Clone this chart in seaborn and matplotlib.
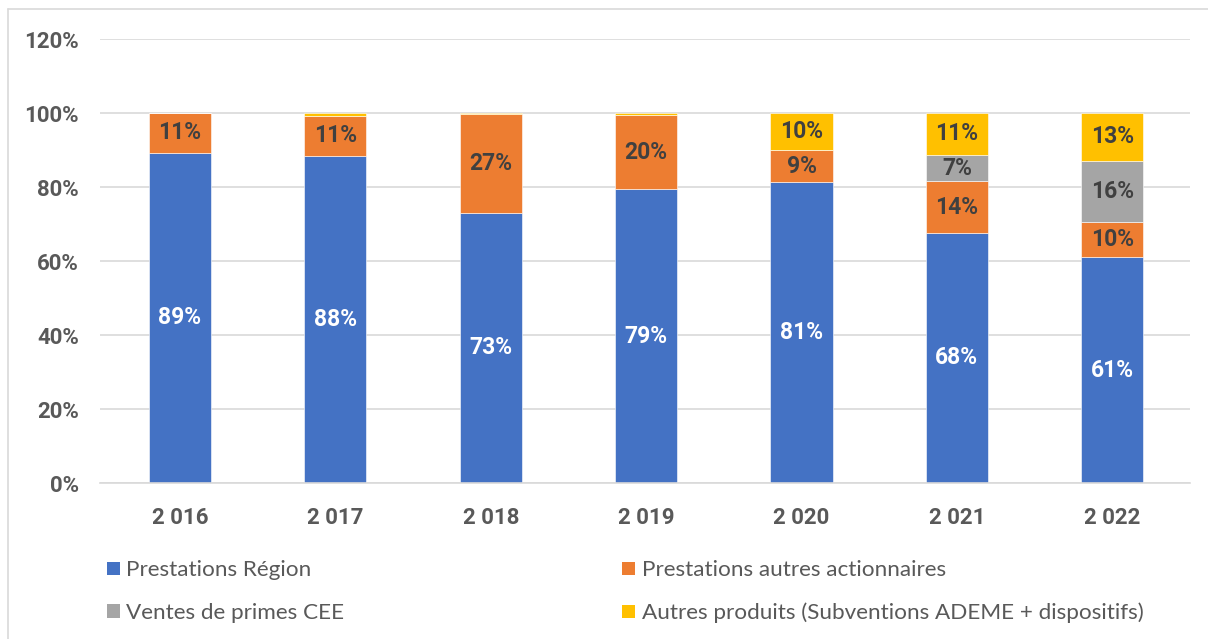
import matplotlib
matplotlib.use("Agg")
import matplotlib.pyplot as plt
from matplotlib.lines import Line2D
from matplotlib.patches import Patch
import seaborn as sns
import pandas as pd
import numpy as np

# Data (share of revenue, %)
years = ["2 016", "2 017", "2 018", "2 019", "2 020", "2 021", "2 022"]
prestations_region = [89.3, 88.3, 73.0, 79.4, 81.3, 67.6, 61.0]
prestations_autres = [10.7, 11.0, 26.8, 20.1, 8.7, 13.9, 9.6]
ventes_cee = [0.0, 0.0, 0.0, 0.0, 0.0, 7.2, 16.5]
autres_produits = [0.0, 0.7, 0.2, 0.5, 10.0, 11.3, 12.9]

series_names = ["Prestations Région", "Prestations autres actionnaires",
                "Ventes de primes CEE",
                "Autres produits (Subventions ADEME + dispositifs)"]
series_values = [prestations_region, prestations_autres, ventes_cee, autres_produits]
colors = ["#4472C4", "#ED7D31", "#A5A5A5", "#FFC000"]
label_colors = ["white", "#404040", "#404040", "#404040"]

sns.set_theme(style="white")
plt.rcParams["font.family"] = ["Lato", "DejaVu Sans"]
BOLD = ["Roboto", "DejaVu Sans"]

fig = plt.figure(figsize=(12.08, 6.39), dpi=100)
ax = fig.add_axes([100 / 1208, 156 / 639, 1090 / 1208, 444 / 639])

bottom = np.zeros(len(years))
for name, vals, col, lcol in zip(series_names, series_values, colors, label_colors):
    df = pd.DataFrame({"year": years, "value": vals})
    sns.barplot(data=df, x="year", y="value", bottom=bottom, color=col,
                width=0.40, ax=ax, saturation=1, edgecolor="white", linewidth=0.4)
    for i, v in enumerate(vals):
        if v >= 5:
            ax.text(i, bottom[i] + v / 2, f"{round(v):.0f}%", ha="center", va="center",
                    color=lcol, fontsize=16.5, fontweight="bold", family=BOLD)
    bottom = bottom + np.array(vals)

ax.set_xlim(-0.515, 6.50)
ax.set_ylim(0, 120)
ax.set_yticks(range(0, 121, 20))
ax.set_yticklabels([f"{t}%" for t in range(0, 121, 20)])
ax.set_xlabel("")
ax.set_ylabel("")
ax.grid(axis="y", color="#D9D9D9", linewidth=1.2)
ax.set_axisbelow(True)
for s in ["left", "right", "top"]:
    ax.spines[s].set_visible(False)
ax.spines["bottom"].set_color("#D9D9D9")
ax.spines["bottom"].set_linewidth(1.2)
ax.tick_params(axis="both", length=0, labelsize=16, labelcolor="#595959")
ax.tick_params(axis="x", pad=17)
ax.tick_params(axis="y", pad=15)
for lbl in ax.get_xticklabels() + ax.get_yticklabels():
    lbl.set_fontweight("bold")
    lbl.set_family(BOLD)

# legend: two columns, rows Région / autres actionnaires, CEE / Autres produits
order = [0, 2, 1, 3]
handles = [Patch(facecolor=colors[k], edgecolor="none") for k in order]
labels = [series_names[k] for k in order]
fig.legend(handles, labels, ncol=2, loc="upper left",
           bbox_to_anchor=(87 / 1208, 1 - 540 / 639), frameon=False,
           fontsize=16.2, labelcolor="#595959", handlelength=0.55, handleheight=0.55,
           handletextpad=0.3, columnspacing=12.35, labelspacing=1.0)

# light frame around chart area
fig.add_artist(Line2D([8 / 1208, 8 / 1208], [0, 1 - 9 / 639], color="#D9D9D9",
                      linewidth=1.2, transform=fig.transFigure))
fig.add_artist(Line2D([8 / 1208, 1], [1 - 9 / 639, 1 - 9 / 639], color="#D9D9D9",
                      linewidth=1.2, transform=fig.transFigure))

fig.savefig("out.png", dpi=100)
